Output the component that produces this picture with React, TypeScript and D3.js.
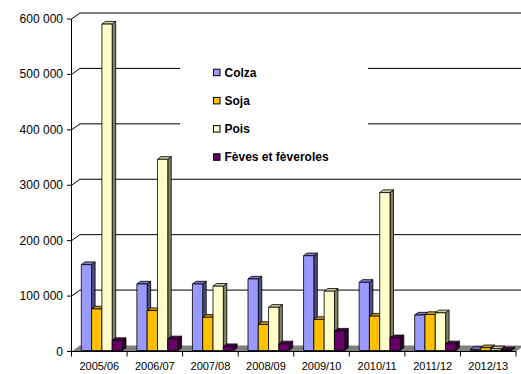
import React from "react";
import * as d3 from "d3";

const categories = ["2005/06", "2006/07", "2007/08", "2008/09", "2009/10", "2010/11", "2011/12", "2012/13"];
const seriesNames = ["Colza", "Soja", "Pois", "Fèves et fèveroles"];
const colza = [155000, 120000, 120000, 129000, 171000, 123000, 64000, 2000];
const soja = [75000, 72000, 60000, 47000, 56000, 62000, 65000, 5000];
const pois = [589000, 345000, 116000, 78000, 107000, 285000, 68000, 3000];
const feves = [18000, 21000, 7000, 12000, 35000, 23000, 12000, 1000];
const yTicks = [0, 100000, 200000, 300000, 400000, 500000, 600000];

const seriesValues = [colza, soja, pois, feves];
const frontColors = ["#9999FF", "#FFC000", "#FFFFCC", "#660066"];
const sideColors = ["#4D4D80", "#806000", "#808066", "#330033"];
const topColors = ["#7A7ACC", "#CC9A00", "#CCCCA3", "#520052"];

const W = 521;
const H = 374;
const DX = 8.5;
const DY = -6;
const BDX = 3.5;
const BDY = -2.7;
const FONT = "'Liberation Sans', Arial, sans-serif";

export default function App() {
  const y = d3.scaleLinear().domain([0, 600000]).range([351.5, 19]);
  const x = d3.scaleBand<string>().domain(categories).range([71.5, 516]).padding(0);
  const bw = 10.3;
  const inner = d3
    .scaleBand<string>()
    .domain(seriesNames)
    .range([9.8, 9.8 + 4 * bw])
    .padding(0);
  const fmt = (v: number) => d3.format(",")(v).replace(/,/g, " ");
  const x0 = 71.5;
  const xRight = 516;
  const base = y(0);
  const barBottom = base - 1;

  return (
    <svg
      width={W}
      height={H}
      style={{ position: "absolute", left: 0, top: 0, background: "#fff" }}
      fontFamily={FONT}
    >
      {/* back wall gridlines */}
      {yTicks.filter((t) => t > 0).map((t) => (
        <g key={"g" + t}>
          <line
            x1={x0 + DX}
            x2={W + 2}
            y1={y(t) + DY}
            y2={y(t) + DY}
            stroke={t === 600000 ? "#808080" : "#000"}
            strokeWidth={t === 600000 ? 2 : 1}
          />
          <line x1={x0} y1={y(t)} x2={x0 + DX} y2={y(t) + DY} stroke="#000" strokeWidth={1} />
        </g>
      ))}
      {/* floor */}
      <polygon
        points={`${x0},${base} ${x0 + DX},${base + DY} ${xRight + DX},${base + DY} ${xRight},${base}`}
        fill="#808080"
      />
      {/* bars */}
      {categories.map((c, i) => (
        <g key={c}>
          {seriesNames.map((s, k) => {
            const v = seriesValues[k][i];
            const bx = (x(c) as number) + (inner(s) as number);
            const top = y(v) - 1;
            const h = barBottom - top;
            return (
              <g key={s} stroke="#000" strokeWidth={0.8} strokeLinejoin="round">
                <polygon
                  points={`${bx + bw},${top} ${bx + bw + BDX},${top + BDY} ${bx + bw + BDX},${barBottom + BDY} ${bx + bw},${barBottom}`}
                  fill={sideColors[k]}
                />
                <polygon
                  points={`${bx},${top} ${bx + BDX},${top + BDY} ${bx + bw + BDX},${top + BDY} ${bx + bw},${top}`}
                  fill={topColors[k]}
                />
                <rect x={bx} y={top} width={bw} height={Math.max(h, 0.5)} fill={frontColors[k]} />
              </g>
            );
          })}
        </g>
      ))}
      {/* y axis */}
      <line x1={x0} x2={x0} y1={y(600000)} y2={base} stroke="#000" strokeWidth={1} />
      {yTicks.map((t) => (
        <g key={"t" + t}>
          <line x1={x0 - 4.5} x2={x0} y1={y(t)} y2={y(t)} stroke="#000" strokeWidth={1} />
          <text x={63} y={y(t)} textAnchor="end" dominantBaseline="central" fontSize={12} fill="#000">
            {fmt(t)}
          </text>
        </g>
      ))}
      {/* x axis */}
      <line x1={x0} x2={xRight} y1={base} y2={base} stroke="#000" strokeWidth={1} />
      {[...categories.map((c) => x(c) as number), xRight].map((px, i) => (
        <line key={"xt" + i} x1={px} x2={px} y1={base} y2={base + 5} stroke="#000" strokeWidth={1} />
      ))}
      {categories.map((c) => (
        <text
          key={"xl" + c}
          x={(x(c) as number) + x.bandwidth() / 2}
          y={366}
          textAnchor="middle"
          dominantBaseline="central"
          fontSize={11}
          fill="#000"
        >
          {c}
        </text>
      ))}
      {/* legend */}
      <rect x={180} y={42} width={188} height={128} fill="#fff" />
      {seriesNames.map((s, k) => {
        const ly = 72.7 + k * 28.2;
        return (
          <g key={"lg" + s}>
            <rect x={213.5} y={ly - 3.5} width={6.5} height={6.5} fill={frontColors[k]} stroke="#000" strokeWidth={1} />
            <text x={224.5} y={ly} dominantBaseline="central" fontSize={12} fontWeight="bold" fill="#000">
              {s}
            </text>
          </g>
        );
      })}
    </svg>
  );
}
